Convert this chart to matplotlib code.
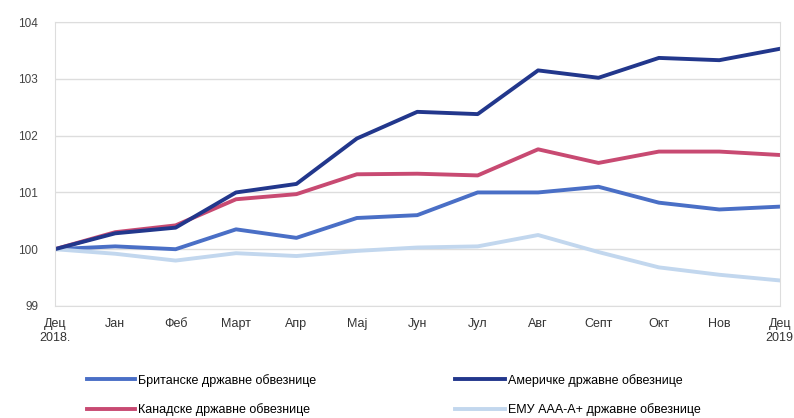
import matplotlib
matplotlib.use("Agg")
import matplotlib.pyplot as plt

plt.rcParams['font.family'] = ['Liberation Sans', 'DejaVu Sans']

# podaci (procena sa slike)
meseci = ['Дец\n2018.', 'Јан', 'Феб', 'Март', 'Апр', 'Мај', 'Јун', 'Јул', 'Авг', 'Септ', 'Окт', 'Нов', 'Дец\n2019']
britanske = [100, 100.05, 100.0, 100.35, 100.2, 100.55, 100.6, 101.0, 101.0, 101.1, 100.82, 100.7, 100.75]
americke = [100, 100.28, 100.38, 101.0, 101.15, 101.95, 102.42, 102.38, 103.15, 103.02, 103.37, 103.33, 103.53]
kanadske = [100, 100.3, 100.42, 100.88, 100.97, 101.32, 101.33, 101.3, 101.76, 101.52, 101.72, 101.72, 101.66]
emu = [100, 99.92, 99.8, 99.93, 99.88, 99.97, 100.03, 100.05, 100.25, 99.95, 99.68, 99.55, 99.45]

fig = plt.figure(figsize=(7.94, 4.18), dpi=100)
ax = fig.add_axes([0.069, 0.268, 0.913, 0.679])

x = list(range(len(meseci)))
lw = 2.8
l1, = ax.plot(x, britanske, color='#4a6fc6', lw=lw, label='Британске државне обвезнице')
l3, = ax.plot(x, kanadske, color='#c84a72', lw=lw, label='Канадске државне обвезнице')
l4, = ax.plot(x, emu, color='#c2d7ee', lw=lw, label='ЕМУ ААА-А+ државне обвезнице')
l2, = ax.plot(x, americke, color='#22378c', lw=lw, label='Америчке државне обвезнице')

ax.set_xlim(0, 12)
ax.set_ylim(99, 104)
ax.set_yticks([99, 100, 101, 102, 103, 104])
ax.set_xticks(x)
ax.set_xticklabels(meseci, fontsize=9, color='#333333')
ax.tick_params(axis='y', labelsize=8.5, colors='#444444', length=0, pad=12)
ax.tick_params(axis='x', length=0, pad=9)
ax.grid(axis='y', color='#dddddd', lw=1)
for s in ax.spines.values():
    s.set_color('#dddddd')

# legenda u dve kolone, svaka posebno
leg1 = fig.legend(handles=[l1, l3], loc='lower left', bbox_to_anchor=(87 / 794, 0.005),
                  frameon=False, fontsize=9, handlelength=3.85, handletextpad=0.25,
                  labelspacing=1.3, borderpad=0, borderaxespad=0)
leg2 = fig.legend(handles=[l2, l4], loc='lower left', bbox_to_anchor=(455 / 794, 0.005),
                  frameon=False, fontsize=9, handlelength=4.0, handletextpad=0.25,
                  labelspacing=1.3, borderpad=0, borderaxespad=0)

plt.savefig('out.png', dpi=100)
